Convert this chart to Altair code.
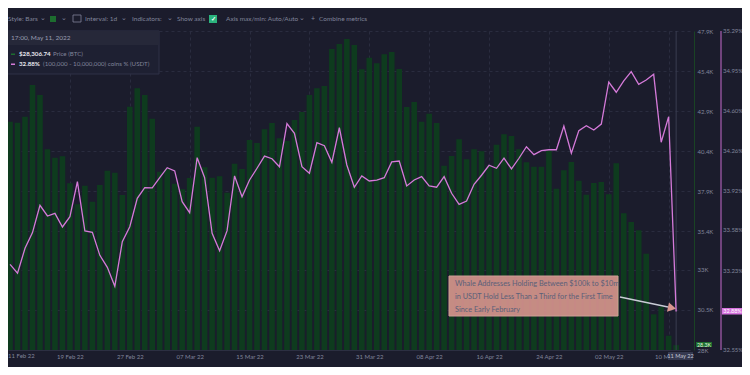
import altair as alt
import pandas as pd

# ---------------- data ----------------
dates = pd.date_range("2022-02-11", "2022-05-11").strftime("%d %b %y").tolist()

price = [42241, 42179, 42553, 44531, 43907, 40520, 39996, 40083, 38399, 37089,
         38249, 37251, 38293, 39185, 39060, 37669, 43177, 44325, 43907, 42429,
         39122, 39334, 38374, 38025, 38730, 41929, 39397, 38748, 38835, 37812,
         39621, 39291, 41100, 40913, 41767, 42160, 41206, 41037, 42347, 42846,
         43907, 44325, 44468, 46776, 47088, 47400, 47026, 45510, 46234, 45884,
         46446, 46589, 45529, 43158, 43470, 42241, 42740, 42160, 39497, 40102,
         41143, 39896, 40520, 40395, 39522, 40807, 41455, 41349, 40520, 39709,
         39434, 39434, 40432, 38062, 39210, 39727, 38561, 37687, 38417, 38480,
         37713, 39646, 36527, 35985, 35467, 34007, 30227, 30701, 28892, 28306.74]

usdt_pct = [33.286, 33.209, 33.424, 33.558, 33.793, 33.701, 33.724, 33.607, 33.695, 33.996,
            33.572, 33.561, 33.363, 33.260, 33.097, 33.480, 33.609, 33.853, 33.944, 33.942,
            34.030, 34.116, 34.088, 33.824, 33.729, 34.202, 34.030, 33.552, 33.403, 33.575,
            34.045, 33.867, 34.010, 34.111, 34.216, 34.193, 34.124, 34.494, 34.411, 34.124,
            34.068, 34.331, 34.305, 34.162, 34.459, 34.139, 33.948, 34.045, 34.002, 34.010,
            34.030, 34.165, 34.173, 33.959, 34.010, 34.039, 33.959, 33.948, 34.039, 33.896,
            33.801, 33.830, 33.973, 34.051, 34.137, 34.111, 34.199, 34.105, 34.197, 34.296,
            34.228, 34.262, 34.270, 34.270, 34.474, 34.240, 34.434, 34.477, 34.440, 34.491,
            34.852, 34.764, 34.861, 34.941, 34.832, 34.869, 34.918, 34.334, 34.554, 32.88]

x_tick_idx = [8, 16, 24, 32, 40, 48, 56, 64, 72, 80, 88]
x_tick_labels = ["19 Feb 22", "27 Feb 22", "07 Mar 22", "15 Mar 22", "23 Mar 22",
                 "31 Mar 22", "08 Apr 22", "16 Apr 22", "24 Apr 22", "02 May 22", "10 May 22"]
first_x_label = "11 Feb 22"
price_ticks = [28000, 30500, 33000, 35400, 37900, 40400, 42900, 45400, 47900]
price_tick_labels = ["28K", "30.5K", "33K", "35.4K", "37.9K", "40.4K", "42.9K", "45.4K", "47.9K"]
pct_ticks = [32.55, 33.23, 33.58, 33.92, 34.26, 34.60, 34.95, 35.29]
pct_tick_labels = ["32.55%", "33.23%", "33.58%", "33.92%", "34.26%", "34.60%", "34.95%", "35.29%"]

df = pd.DataFrame({"idx": list(range(len(dates))), "date": dates,
                   "price": price, "pct": usdt_pct})
pct_df = pd.DataFrame({"v": pct_ticks, "label": pct_tick_labels})

# ---------------- style ----------------
BG = "#1b1c2c"
BAR = "#0e3b1e"
PINK = "#d57ad9"
GRAY = "#80849a"
GRID = "#2a2c3f"
FONT = "Lato"
W, H = 682, 319

one = alt.Data(values=[{"a": 1}])


def txt(s, x, y, size=6.5, color=GRAY, weight="normal", align="left"):
    return alt.Chart(one).mark_text(text=s, align=align, baseline="middle", fontSize=size,
                                    color=color, fontWeight=weight, font=FONT).encode(
        x=alt.value(x), y=alt.value(y))


def box(x, x2, y, y2, fill, stroke=None, opacity=1.0):
    kw = dict(fill=fill, opacity=opacity)
    if stroke:
        kw.update(stroke=stroke, strokeWidth=1)
    return alt.Chart(one).mark_rect(**kw).encode(
        x=alt.value(x), x2=alt.value(x2), y=alt.value(y), y2=alt.value(y2))


xscale = alt.Scale(domain=[0.395, 90.185], nice=False, zero=False)
pscale = alt.Scale(domain=[28000, 47900], nice=False, zero=False)
cscale = alt.Scale(domain=[32.55, 35.29], nice=False, zero=False)
x_expr = ("[" + ",".join("'%s'" % s for s in x_tick_labels) + "][indexof(["
          + ",".join(str(v) for v in x_tick_idx) + "], datum.value)]")
p_expr = ("[" + ",".join("'%s'" % s for s in price_tick_labels) + "][indexof(["
          + ",".join(str(v) for v in price_ticks) + "], datum.value)]")

x_axis = alt.Axis(values=x_tick_idx, labelExpr=x_expr, grid=True, gridColor=GRID,
                  gridDash=[3, 3], ticks=False, domainColor="#2c2f42",
                  labelColor=GRAY, labelFontSize=6, labelPadding=3,
                  labelFont=FONT, title=None)

base = alt.Chart(df)

bars = base.mark_bar(color=BAR, size=5.6, clip=True).encode(
    x=alt.X("idx:Q", scale=xscale, title=None, axis=x_axis),
    y=alt.Y("price:Q", scale=pscale, title=None,
            axis=alt.Axis(orient="right", offset=4, values=price_ticks, labelExpr=p_expr,
                          grid=True, gridColor=GRID, gridDash=[3, 3], ticks=False,
                          domainColor="#1a4324", labelColor=GRAY, labelFontSize=6,
                          labelPadding=3, labelFont=FONT)),
    y2=alt.datum(28000),
)

cross = alt.Chart(one).mark_rule(color="#3a3d51", strokeWidth=1).encode(
    x=alt.X(datum=89, scale=xscale, axis=x_axis), y=alt.value(0), y2=alt.value(H))

line = base.mark_line(color=PINK, strokeWidth=1.3, clip=True).encode(
    x=alt.X("idx:Q", scale=xscale, title=None, axis=x_axis),
    y=alt.Y("pct:Q", scale=cscale, axis=None),
)

# right-hand percentage axis (drawn beside the price axis)
pct_domain = alt.Chart(one).mark_rule(color="#c66acc", strokeWidth=1).encode(
    x=alt.value(713), y=alt.value(0), y2=alt.value(H))
pct_labels = alt.Chart(pct_df).mark_text(align="left", baseline="middle", fontSize=6,
                                         color=GRAY, font=FONT).encode(
    x=alt.value(715), y=alt.Y("v:Q", scale=cscale, axis=None), text="label:N")

# first date label, pushed flush with the left edge as in the original
first_lab = txt(first_x_label, 0, 325.2, 6, GRAY)

# annotation
ann_box = box(441, 610, 245, 285, "#d9958f", stroke="#e3aaa3", opacity=0.9)
ann_lines = [
    txt("Whale Addresses Holding Between $100k to $10m", 447, 252.5, 7.3, "#5a6079"),
    txt("in USDT Hold Less Than a Third for the First Time", 447, 266, 7.3, "#5a6079"),
    txt("Since Early February", 447, 279, 7.3, "#5a6079"),
]
arrow = alt.Chart(one).mark_rule(color="#c9cbd6", strokeWidth=1.4).encode(
    x=alt.value(612), x2=alt.value(660), y=alt.value(266), y2=alt.value(276))
head = alt.Chart(one).mark_point(shape="triangle-right", filled=True, fill="#d9958f",
                                 opacity=1, size=90, angle=12).encode(
    x=alt.value(664), y=alt.value(277))

# current value markers
pmark = box(688, 704, 311, 316, "#1d6d2f")
pmark_t = txt("28.3K", 696, 313.6, 5.3, "#dff5df", align="center")
cmark = box(714, 735, 277, 283.5, "#d672de")
cmark_t = txt("32.88%", 724.5, 280.3, 5.5, "#ffffff", align="center")
dmark = box(660, 685, 321, 329, "#353950")
dmark_t = txt("11 May 22", 672.5, 325, 5.6, "#c3c6d4", align="center")

# tooltip box
tip = [
    box(-3, 151, 0, 43, "#1e2032", stroke="#2e3146"),
    box(-3, 151, 0, 14, "#262839"),
    txt("17:00, May 11, 2022", 3, 7, 6.5, "#9a9db0"),
    box(3, 7, 22.5, 24, "#1d6d2f"),
    txt("$28,306.74", 11, 23, 6.2, "#e6e7ee", "bold"),
    txt("Price (BTC)", 45, 23, 6.2, GRAY),
    box(3, 7, 32.5, 34, PINK),
    txt("32.88%", 11, 33, 6.2, "#e6e7ee", "bold"),
    txt("(100,000  - 10,000,000) coins % (USDT)", 35, 33, 6.2, GRAY),
]

# toolbar
ty = -12
tool = [
    txt("Style: Bars", 0, ty, 6.5),
    txt("⌄", 32, ty - 1.5, 6.5),
    box(42, 48, ty - 3, ty + 3, "#1d6d2f"),
    txt("⌄", 53, ty - 1.5, 6.5),
    alt.Chart(one).mark_rect(fill=BG, stroke=GRAY, strokeWidth=0.8).encode(
        x=alt.value(65), x2=alt.value(73), y=alt.value(ty - 4), y2=alt.value(ty + 3)),
    txt("Interval: 1d", 77, ty, 6.5),
    txt("⌄", 113, ty - 1.5, 6.5),
    txt("Indicators:", 124, ty, 6.5),
    txt("⌄", 159, ty - 1.5, 6.5),
    txt("Show axis", 169, ty, 6.5),
    box(201, 209, ty - 4, ty + 4, "#2bb37d"),
    txt("✓", 205, ty, 6, "#ffffff", "bold", "center"),
    txt("Axis max/min: Auto/Auto", 218, ty, 6.5),
    txt("⌄", 291, ty - 1.5, 6.5),
    txt("+", 303, ty, 7),
    txt("Combine metrics", 311, ty, 6.5),
]

chart = alt.layer(
    bars, cross, line, pct_domain, pct_labels, first_lab, ann_box, *ann_lines, arrow, head,
    pmark, pmark_t, cmark, cmark_t, dmark, dmark_t, *tip, *tool
).resolve_scale(y="independent").properties(
    width=W, height=H,
    padding={"left": 0, "top": 23, "right": 52, "bottom": 17},
    autosize=alt.AutoSizeParams(type="none"),
    background=BG,
).configure_view(stroke=None)

chart.save("out.html", embed_options={"renderer": "svg", "actions": False})
